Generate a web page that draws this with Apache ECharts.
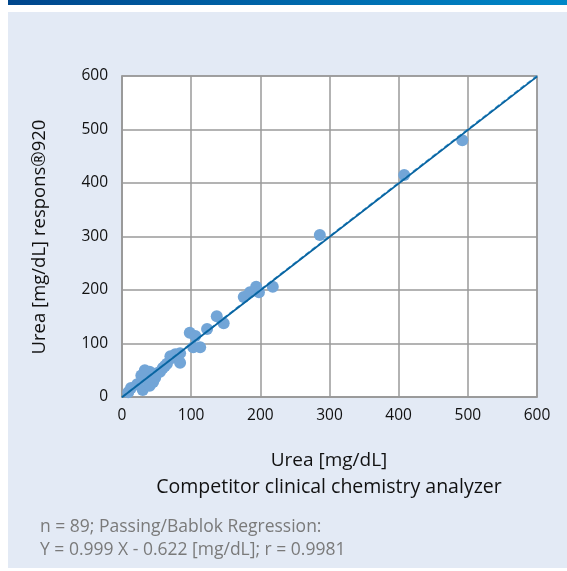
<!DOCTYPE html>
<html><head><meta charset="utf-8">
<script src="https://cdn.jsdelivr.net/npm/echarts@6/dist/echarts.min.js"></script>
<style>html,body{margin:0;padding:0;background:#fff}#c{width:567px;height:571px}</style>
</head><body><div id="c"></div>
<script>
const xValues = [9,13,22,30,33,36,40,40,45,48,55,59,65,72,77,84,84,98,106,103,113,123,137,147,176,185,194,198,218,286,408,492,28,35,43,50,62,70];
const yValues = [9,17,24,13,50,32,21,47,28,36,47,54,62,73,80,82,64,120,114,93,93,127,151,138,187,196,206,196,206,303,415,480,40,45,38,44,58,76];
const axisTicks = [0,100,200,300,400,500,600];
const slope = 0.999, intercept = -0.622;
const pts = xValues.map((x,i)=>[x,yValues[i]]);
const chart = echarts.init(document.getElementById('c'));
const font = '"Open Sans", "Noto Sans", sans-serif';
chart.setOption({
  backgroundColor:'#fff',
  animation:false,
  graphic:[
    {type:'rect',left:8,top:0,shape:{width:559,height:5},style:{fill:new echarts.graphic.LinearGradient(0,0,1,0,[{offset:0,color:'#00468c'},{offset:1,color:'#0088c8'}])},z:-10},
    {type:'rect',left:8,top:12,shape:{width:559,height:556},style:{fill:'#e3eaf5'},z:-10},
    {type:'text',style:{text:'Urea [mg/dL]',font:'19px '+font,fill:'#111',align:'center',verticalAlign:'middle'},x:329,y:461,z:10},
    {type:'text',style:{text:'Competitor clinical chemistry analyzer',font:'19.5px '+font,fill:'#111',align:'center',verticalAlign:'middle'},x:329,y:487,z:10},
    {type:'text',style:{text:'n = 89; Passing/Bablok Regression:',font:'17.5px '+font,fill:'#7a7a7a',verticalAlign:'middle'},x:40,y:527},
    {type:'text',style:{text:'Y = 0.999 X - 0.622 [mg/dL]; r = 0.9981',font:'17.5px '+font,fill:'#7a7a7a',verticalAlign:'middle'},x:40,y:550},
    {type:'text',style:{text:'Urea [mg/dL] respons®920',font:'18.5px '+font,fill:'#111',align:'center',verticalAlign:'middle'},x:40,y:237,rotation:Math.PI/2}
  ],
  grid:{left:122,right:30,top:76,bottom:174,show:true,backgroundColor:'#fff',borderColor:'#999',borderWidth:1.5},
  xAxis:{type:'value',min:0,max:600,interval:100,
    axisLine:{show:true,lineStyle:{color:'#999',width:1.5}},axisTick:{show:false},
    splitLine:{show:true,lineStyle:{color:'#9a9a9a',width:1.5}},
    axisLabel:{color:'#111',fontSize:15.5,fontFamily:font,margin:11}},
  yAxis:{type:'value',min:0,max:600,interval:100,
    axisLine:{show:true,lineStyle:{color:'#999',width:1.5}},axisTick:{show:false},
    splitLine:{show:true,lineStyle:{color:'#9a9a9a',width:1.5}},
    axisLabel:{color:'#111',fontSize:15.5,fontFamily:font,margin:14}},
  series:[
    {type:'scatter',data:pts,symbolSize:12,itemStyle:{color:'#72a5d7',opacity:1},z:3},
    {type:'line',data:[[0,0],[600,600]],symbol:'none',lineStyle:{color:'#3a9ad6',width:2,type:[5,3]},z:4},
    {type:'line',data:[[0,intercept],[600,600*slope+intercept]],symbol:'none',lineStyle:{color:'#0a64a0',width:1.8},z:5}
  ]
});
</script></body></html>
